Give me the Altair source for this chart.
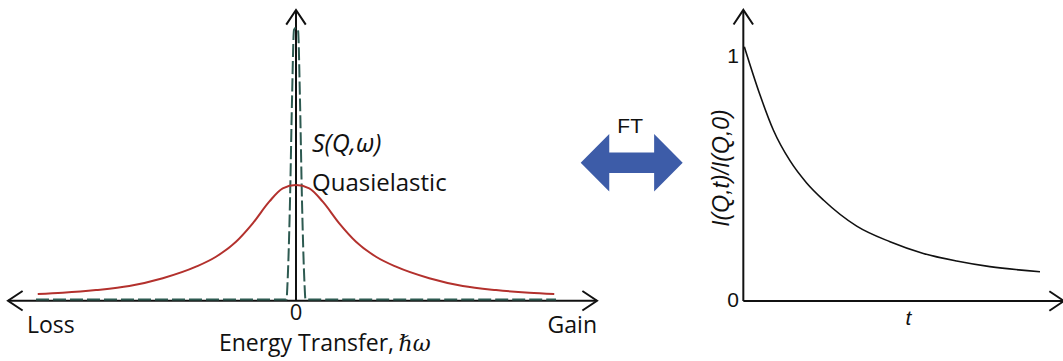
import altair as alt
import pandas as pd

W, H = 1063, 361

# ---------------- left panel: S(Q, w) versus energy transfer ----------------
# quasielastic (broad) component
red_E = [-1.033, -0.933, -0.80, -0.667, -0.533, -0.40, -0.32, -0.24, -0.173, -0.107, -0.053, 0.0,
         0.053, 0.107, 0.173, 0.24, 0.32, 0.40, 0.533, 0.667, 0.80, 0.933, 1.033]
red_I = [0.058, 0.069, 0.092, 0.127, 0.194, 0.294, 0.380, 0.510, 0.669, 0.856, 0.971, 1.0,
         0.971, 0.856, 0.669, 0.510, 0.380, 0.294, 0.194, 0.127, 0.092, 0.069, 0.058]
# elastic (narrow, dashed) component
el_E = [-1.04, -0.038, -0.034, -0.024, -0.016, -0.008, 0.0, 0.008, 0.016, 0.024, 0.034, 0.038, 1.04]
el_I = [0.01, 0.01, 0.15, 0.86, 1.73, 2.34, 2.36, 2.34, 1.73, 0.86, 0.15, 0.01, 0.01]
# axis extents (energy units / intensity units)
L_XMIN, L_XMAX, L_YTOP = -1.152, 1.204, 2.513
# visible window of the left coordinate system
LX_DOM = [-1.184, 3.068]
LY_DOM = [-0.521, 2.599]

# ---------------- right panel: I(Q,t)/I(Q,0) versus t ----------------
dec_t = [0.0033, 0.0557, 0.1, 0.156, 0.211, 0.267, 0.378, 0.489, 0.6, 0.711, 0.822, 0.989]
dec_I = [1.042, 0.844, 0.701, 0.574, 0.484, 0.414, 0.307, 0.243, 0.195, 0.164, 0.141, 0.120]
R_XMAX, R_YTOP = 1.069, 1.193
RX_DOM = [-2.478, 1.0657]
RY_DOM = [-0.2459, 1.2336]

# ---------------- middle: Fourier-transform double arrow (arrow units) ----------------
arr_x = [-1.0, -0.44, -0.44, 0.44, 0.44, 1.0]
arr_top = [0.0, 0.563, 0.202, 0.202, 0.563, 0.0]
arr_bot = [0.0, -0.563, -0.202, -0.202, -0.563, 0.0]
MX_DOM = [-12.386, 8.457]
MY_DOM = [-3.888, 3.19]

RED = "#b3312d"
TEAL = "#2d5a51"
BLUE = "#3d5ca8"
INK = "#111111"
CHEVRON = "M-1.5,-1L0,0L-1.5,1"


def sx(field, dom):
    return alt.X(field, type="quantitative", scale=alt.Scale(domain=dom, nice=False, zero=False), axis=None)


def sy(field, dom):
    return alt.Y(field, type="quantitative", scale=alt.Scale(domain=dom, nice=False, zero=False),
                 axis=None, stack=None)


def lines(df, xdom, ydom, **kw):
    return alt.Chart(df).mark_line(**kw).encode(
        x=sx("x", xdom), y=sy("y", ydom), order=alt.Order("i:Q"))


def rules(df, xdom, ydom):
    return alt.Chart(df).mark_rule(color=INK, strokeWidth=2).encode(
        x=sx("x", xdom), x2="x2:Q", y=sy("y", ydom), y2="y2:Q")


def chevrons(df, xdom, ydom):
    return alt.Chart(df).mark_point(shape=CHEVRON, filled=False, color=INK, strokeWidth=2,
                                    size=380, opacity=1).encode(
        x=sx("x", xdom), y=sy("y", ydom), angle=alt.Angle("a:Q", scale=None))


def texts(df, xdom, ydom, **kw):
    return alt.Chart(df).mark_text(**kw).encode(
        x=sx("x", xdom), y=sy("y", ydom), text="label:N")


# ---- left panel layers
red_df = pd.DataFrame({"x": red_E, "y": red_I, "i": range(len(red_E))})
el_df = pd.DataFrame({"x": el_E, "y": el_I, "i": range(len(el_E))})
l_axes = pd.DataFrame({"x": [L_XMIN, 0.0], "x2": [L_XMAX, 0.0], "y": [0.0, 0.0], "y2": [0.0, L_YTOP]})
l_chev = pd.DataFrame({"x": [L_XMIN, L_XMAX, 0.0], "y": [0.0, 0.0, L_YTOP], "a": [180, 0, 270]})

left_layers = [
    rules(l_axes, LX_DOM, LY_DOM),
    chevrons(l_chev, LX_DOM, LY_DOM),
    lines(el_df, LX_DOM, LY_DOM, color=TEAL, strokeWidth=2, strokeDash=[13, 4], interpolate="monotone"),
    lines(red_df, LX_DOM, LY_DOM, color=RED, strokeWidth=2, interpolate="monotone"),
    texts(pd.DataFrame({"x": [-1.076], "y": [-0.283], "label": ["Loss"]}), LX_DOM, LY_DOM,
          align="left", baseline="alphabetic", font="Open Sans", fontSize=23, color=INK),
    texts(pd.DataFrame({"x": [1.204], "y": [-0.283], "label": ["Gain"]}), LX_DOM, LY_DOM,
          align="right", baseline="alphabetic", font="Open Sans", fontSize=23, color=INK),
    texts(pd.DataFrame({"x": [0.0], "y": [-0.170], "label": ["0"]}), LX_DOM, LY_DOM,
          align="center", baseline="alphabetic", font="Open Sans", fontSize=22, color=INK),
    texts(pd.DataFrame({"x": [0.392], "y": [-0.432], "label": ["Energy Transfer,"]}), LX_DOM, LY_DOM,
          align="right", baseline="alphabetic", font="Open Sans", fontSize=23, color=INK),
    texts(pd.DataFrame({"x": [0.410], "y": [-0.432], "label": ["ℏω"]}), LX_DOM, LY_DOM,
          align="left", baseline="alphabetic", font="DejaVu Serif", fontStyle="italic", fontSize=22, color=INK),
    texts(pd.DataFrame({"x": [0.064], "y": [1.283], "label": ["S(Q,ω)"]}), LX_DOM, LY_DOM,
          align="left", baseline="alphabetic", font="Open Sans", fontStyle="italic", fontSize=25, color=INK),
    texts(pd.DataFrame({"x": [0.064], "y": [0.949], "label": ["Quasielastic"]}), LX_DOM, LY_DOM,
          align="left", baseline="alphabetic", font="Open Sans", fontSize=24, color=INK),
]

# ---- middle arrow
arr_df = pd.DataFrame({"x": arr_x, "y": arr_top, "y2": arr_bot})
mid_layers = [
    alt.Chart(arr_df).mark_area(color=BLUE, opacity=1, interpolate="linear").encode(
        x=sx("x", MX_DOM), y=sy("y", MY_DOM), y2="y2:Q"),
    texts(pd.DataFrame({"x": [-0.03], "y": [0.582], "label": ["FT"]}), MX_DOM, MY_DOM,
          align="center", baseline="alphabetic", font="Liberation Sans", fontSize=21, color=INK),
]

# ---- right panel layers
dec_df = pd.DataFrame({"x": dec_t, "y": dec_I, "i": range(len(dec_t))})
r_axes = pd.DataFrame({"x": [0.0, 0.0], "x2": [R_XMAX, 0.0], "y": [0.0, 0.0], "y2": [0.0, R_YTOP]})
r_chev = pd.DataFrame({"x": [R_XMAX, 0.0], "y": [0.0, R_YTOP], "a": [0, 270]})
right_layers = [
    rules(r_axes, RX_DOM, RY_DOM),
    chevrons(r_chev, RX_DOM, RY_DOM),
    lines(dec_df, RX_DOM, RY_DOM, color=INK, strokeWidth=1.6, interpolate="monotone"),
    texts(pd.DataFrame({"x": [-0.034, -0.034], "y": [0.975, -0.025], "label": ["1", "0"]}), RX_DOM, RY_DOM,
          align="center", baseline="alphabetic", font="Liberation Sans", fontSize=21, color=INK),
    texts(pd.DataFrame({"x": [0.55], "y": [-0.098], "label": ["t"]}), RX_DOM, RY_DOM,
          align="center", baseline="alphabetic", font="Liberation Sans", fontStyle="italic", fontSize=21, color=INK),
    texts(pd.DataFrame({"x": [-0.072], "y": [0.545], "label": ["I(Q,t)/I(Q,0)"]}), RX_DOM, RY_DOM,
          align="center", baseline="middle", angle=270, font="Liberation Sans", fontStyle="italic",
          fontSize=23, color=INK),
]

chart = alt.layer(*left_layers, *mid_layers, *right_layers).resolve_scale(
    x="independent", y="independent"
).properties(
    width=W, height=H, padding=0,
    autosize=alt.AutoSizeParams(type="none"),
    background="white",
).configure_view(stroke=None)

chart.save("out.html", embed_options={"renderer": "svg", "actions": False})
